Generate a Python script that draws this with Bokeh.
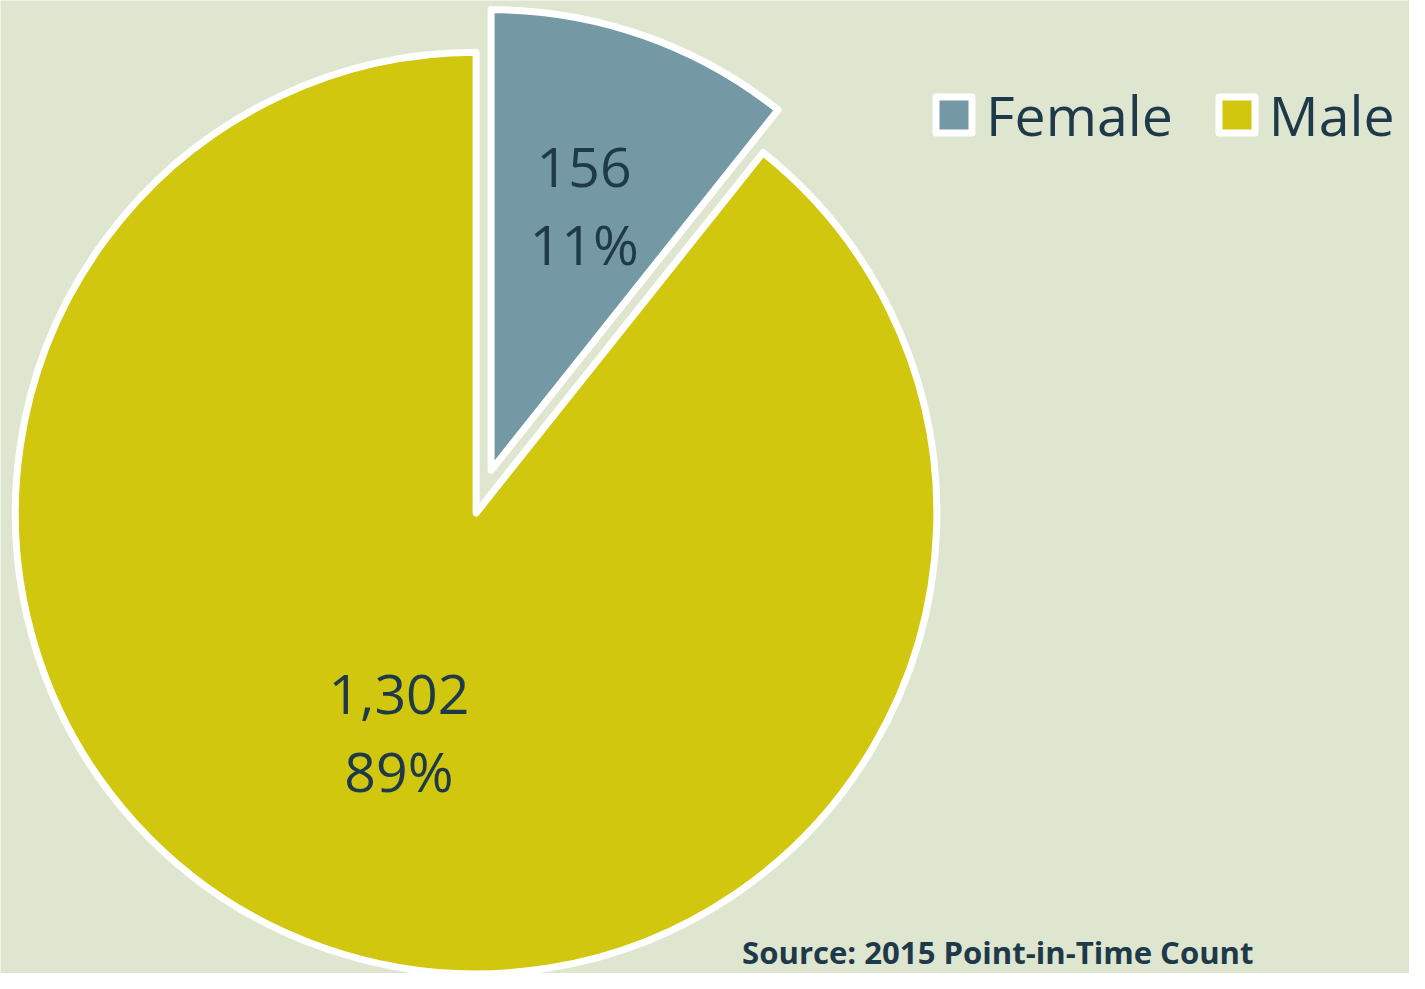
import math
from bokeh.plotting import figure
from bokeh.models import Range1d, ColumnDataSource, Legend, LegendItem, Label
from bokeh.core.properties import value
from bokeh.embed import file_html
from bokeh.resources import INLINE

# ---- data ----
categories = ["Female", "Male"]
counts = [156, 1302]
colors = ["#7599A4", "#D1C70E"]
source_note = "Source: 2015 Point-in-Time Count"

BG = "#DFE6CF"
TXT = "#1E3A4A"
FONT = "Open Sans"

total = sum(counts)
pcts = [c / total for c in counts]

# canvas: reference space 1425 x 989 squeezed into the figure
REF_W, REF_H = 1425, 989
W, H = 1409, 973
s = W / REF_W

# geometry in reference-pixel data units (y = -ref y)
cx, cy = 481.0, -521.0
R = 466.0
explode = [46.0, 0.0]
label_frac = [0.612, 0.508]

# angles: start at 90 deg, going clockwise
starts, ends, mids = [], [], []
a = math.pi / 2
for p_ in pcts:
    sweep = 2 * math.pi * p_
    end_a = a
    start_a = a - sweep
    starts.append(start_a)
    ends.append(end_a)
    mids.append((start_a + end_a) / 2)
    a = start_a

xs = [cx + e * math.cos(m) for e, m in zip(explode, mids)]
ys = [cy + e * math.sin(m) for e, m in zip(explode, mids)]
lx = [x + f * R * math.cos(m) for x, f, m in zip(xs, label_frac, mids)]
ly = [y + f * R * math.sin(m) for y, f, m in zip(ys, label_frac, mids)]
val_txt = [f"{c:,}" for c in counts]
pct_txt = [f"{round(p_ * 100)}%" for p_ in pcts]

src = ColumnDataSource(dict(lx=lx, ly=ly, v=val_txt, pc=pct_txt))

p = figure(width=W, height=H, output_backend="svg", toolbar_location=None,
           x_range=Range1d(0, REF_W), y_range=Range1d(-REF_H, 0),
           min_border=0, background_fill_color=BG, border_fill_color=BG,
           outline_line_color=None)
p.axis.visible = False
p.xgrid.visible = False
p.ygrid.visible = False

renderers = []
for i in range(len(categories)):
    r = p.wedge(x=xs[i], y=ys[i], radius=R, start_angle=starts[i], end_angle=ends[i],
                fill_color=colors[i], line_color="white", line_width=7,
                line_join="round")
    renderers.append(r)

fs = f"{56 * s:.1f}px"
p.text(x="lx", y="ly", text="v", source=src, text_align="center",
       text_baseline="middle", y_offset=-38, text_color=TXT,
       text_font=value(FONT), text_font_size=fs)
p.text(x="lx", y="ly", text="pc", source=src, text_align="center",
       text_baseline="middle", y_offset=38, text_color=TXT,
       text_font=value(FONT), text_font_size=fs)

legend = Legend(items=[LegendItem(label=c, renderers=[r]) for c, r in zip(categories, renderers)],
                orientation="horizontal", location=(931, 821),
                label_text_font=FONT, label_text_font_size=f"{56 * s:.1f}px",
                label_text_color=TXT, glyph_width=45, glyph_height=45,
                label_standoff=10, spacing=41, padding=0, margin=0,
                border_line_color=None, background_fill_alpha=0)
p.add_layout(legend, "center")

src_label = Label(x=750, y=-967, text=source_note, text_font=FONT,
                  text_font_style="bold", text_font_size=f"{31.5 * s:.1f}px",
                  text_color=TXT, text_baseline="alphabetic")
p.add_layout(src_label)

open("out.html", "w").write(file_html(p, INLINE))
